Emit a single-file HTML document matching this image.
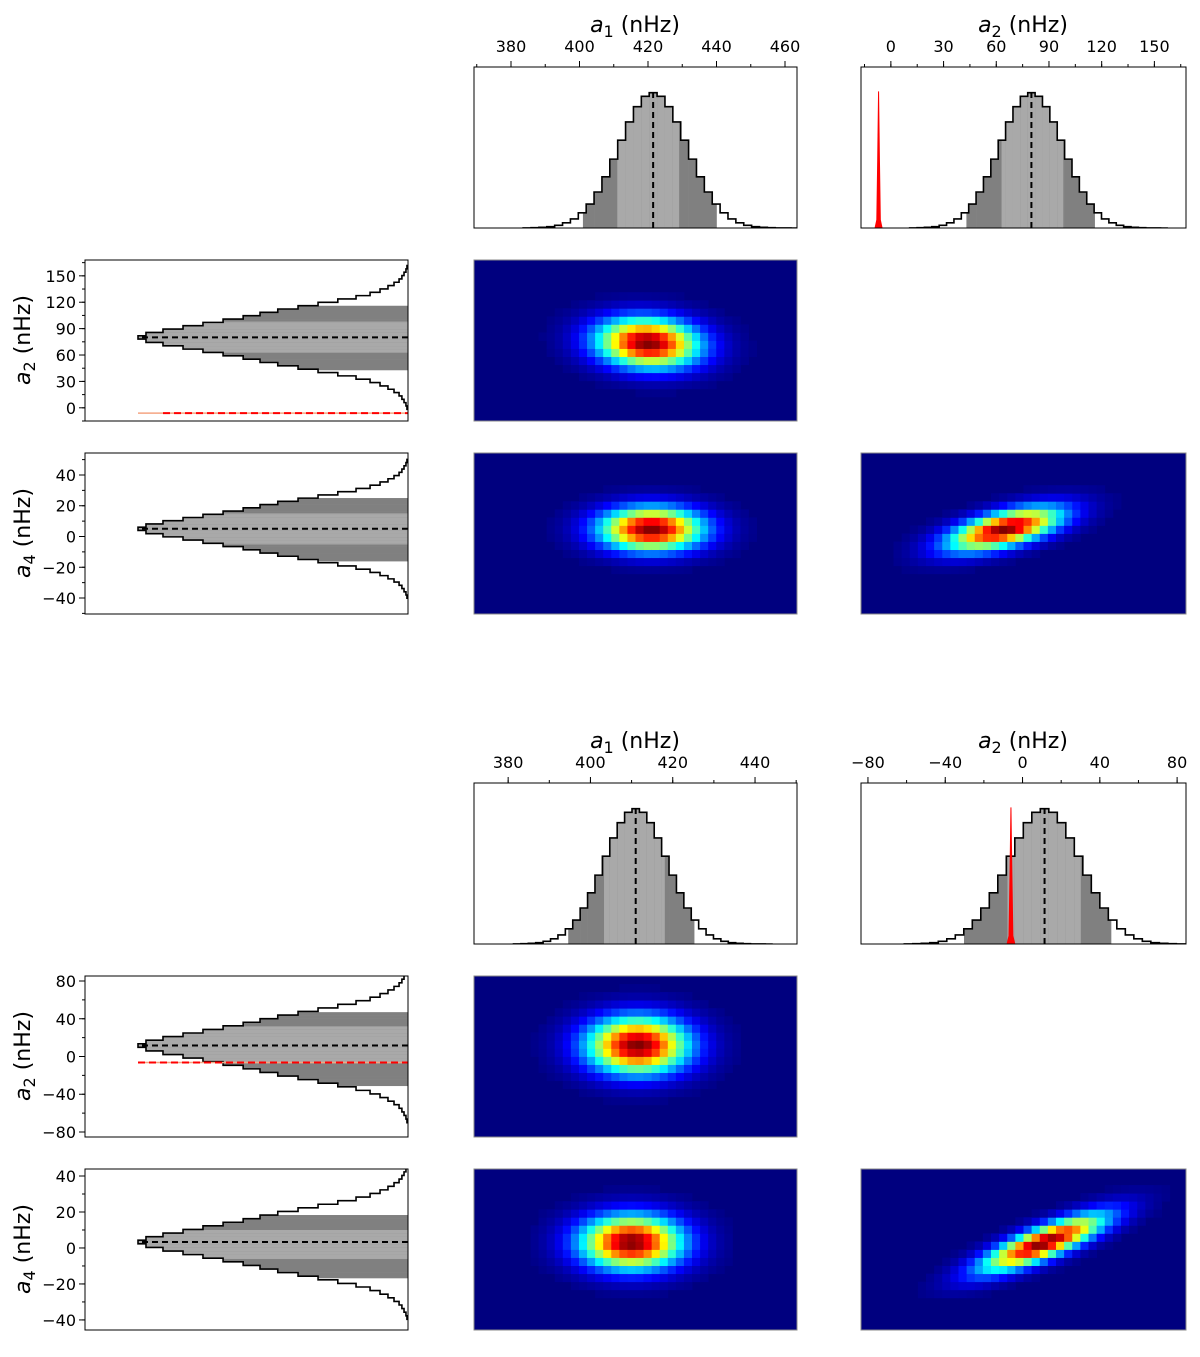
<!DOCTYPE html>
<html><head><meta charset="utf-8"><style>
html,body{margin:0;padding:0;background:#fff;}
svg{display:block;font-family:"DejaVu Sans","Liberation Sans",sans-serif;}
</style></head><body>
<svg id="fig" width="1200" height="1357" viewBox="0 0 1200 1357" xmlns="http://www.w3.org/2000/svg"></svg>
<script>
// ---------- DATA ----------
const P1_A1_COUNTS=[1,2,5,10,20,38,67,112,177,266,378,509,649,784,897,973,1000,973,897,784,649,509,378,266,177,112,67,38,20,10,5,2,1,1,0];
const P1_A1_START=383.55, P1_A1_BIN=2.3;
const P1_A1_Q=[401,411,421.5,429,440];
const P1_A2_COUNTS=[1,2,5,10,20,38,67,112,177,266,378,509,649,784,897,973,1000,973,897,784,649,509,378,266,177,112,67,38,20,10,5,2,1,1,0];
const P1_A2_START=10.7, P1_A2_BIN=4.2;
const P1_A2_Q=[43,63,80,98,116];
const P2_A1_COUNTS=[1,2,5,10,20,38,67,112,177,266,378,509,649,784,897,973,1000,973,897,784,649,509,378,266,177,112,67,38,20,10,5,2,1,1,0];
const P2_A1_START=381.3, P2_A1_BIN=1.8;
const P2_A1_Q=[394.6,403.3,411,418,425.2];
const P2_A2_COUNTS=[1,2,5,10,20,38,67,112,177,266,378,509,649,784,897,973,1000,973,897,784,649,509,378,266,177,112,67,38,20,10,5,2,1,1,0];
const P2_A2_START=-61.2, P2_A2_BIN=4.4;
const P2_A2_Q=[-30.3,-7.8,11.4,30,45.8];
const P1_RED_X=[-9,-8,-7.5,-7,-6.5,-6,-5];
const P1_RED_Y=[0,60,500,1010,500,60,0];
const P2_RED_X=[-8,-7,-6.5,-6,-5.5,-5,-4];
const P2_RED_Y=[0,60,500,1010,500,60,0];
const P1_RED_LINE=-6, P2_RED_LINE=-6.4;
const P1_L_A2_COUNTS=[1.03,1.06,1.12,1.19,1.29,1.49,1.77,2.22,2.95,4.4,7.4,13,23,41,68,110,195,346,611,1082,1757,2206,1757,1082,611,346,195,110,68,41,23,13,7.4,4.4,2.95,2.22,1.77,1.49,1.29,1.19,1.12,1.06,1.03];
const P1_L_A2_START=-1.7, P1_L_A2_BIN=3.8;
const P1_L_A2_Q=[43,63,80,98,116];
const P1_L_A4_COUNTS=[1.03,1.06,1.12,1.19,1.29,1.49,1.77,2.22,2.95,4.4,7.4,13,23,41,68,110,195,346,611,1082,1757,2206,1757,1082,611,346,195,110,68,41,23,13,7.4,4.4,2.95,2.22,1.77,1.49,1.29,1.19,1.12,1.06,1.03];
const P1_L_A4_START=-40.15, P1_L_A4_BIN=2.1;
const P1_L_A4_Q=[-16,-5,5,15,25];
const P2_L_A2_COUNTS=[1.03,1.06,1.12,1.19,1.29,1.49,1.77,2.22,2.95,4.4,7.4,13,23,41,68,110,195,346,611,1082,1757,2206,1757,1082,611,346,195,110,68,41,23,13,7.4,4.4,2.95,2.22,1.77,1.49,1.29,1.19,1.12,1.06,1.03];
const P2_L_A2_START=-70.1, P2_L_A2_BIN=3.8;
const P2_L_A2_Q=[-31,-7,11.6,32,47];
const P2_L_A4_COUNTS=[1.03,1.06,1.12,1.19,1.29,1.49,1.77,2.22,2.95,4.4,7.4,13,23,41,68,110,195,346,611,1082,1757,2206,1757,1082,611,346,195,110,68,41,23,13,7.4,4.4,2.95,2.22,1.77,1.49,1.29,1.19,1.12,1.06,1.03];
const P2_L_A4_START=-39.7, P2_L_A4_BIN=2.0;
const P2_L_A4_Q=[-16.7,-6,3.3,10,18.3];
// heatmap params: [meanX, meanY, sigmaX, sigmaY, rho]
const P1_H_A1A2=[420,74,8.5,16,-0.1];
const P1_H_A1A4=[421,5,8.5,8,0.0];
const P1_H_A2A4=[65,5,18,8,0.6];
const P2_H_A1A2=[411.5,12,7,17,0.0];
const P2_H_A1A4=[410,3.3,7,8.5,0.0];
const P2_H_A2A4=[11,3,18,9,0.82];
const P1_A1_TICKS=[380,400,420,440,460];
const P1_A2_TICKS=[0,30,60,90,120,150];
const P1_A4_TICKS=[-40,-20,0,20,40];
const P2_A1_TICKS=[380,400,420,440];
const P2_A2_TICKS=[-80,-40,0,40,80];
const P2_A4_TICKS=[-40,-20,0,20,40];

// ---------- DRAWING ----------
const NS="http://www.w3.org/2000/svg";
const fig=document.getElementById('fig');
let clipId=0;
function mk(tag,attrs,parent){const e=document.createElementNS(NS,tag);for(const k in attrs)e.setAttribute(k,attrs[k]);(parent||fig).appendChild(e);return e;}
function lin(d0,d1,r0,r1){return v=>r0+(v-d0)/(d1-d0)*(r1-r0);}
function fmt(v){return v<0?'\u2212'+Math.abs(v):String(v);}
function clipFor(x,y,w,h){clipId++;const cp=mk('clipPath',{id:'c'+clipId});mk('rect',{x:x,y:y,width:w,height:h},cp);return 'url(#c'+clipId+')';}

function topTicks(g,x,y,w,dom,ticks,minorStep){
  const sx=lin(dom[0],dom[1],x,x+w);
  const m0=Math.ceil(dom[0]/minorStep)*minorStep;
  for(let v=m0;v<=dom[1];v+=minorStep){
    const t=mk('line',{x1:sx(v),x2:sx(v),y1:y,y2:y-3,stroke:'#000','stroke-width':1},g);
    
    
  }
  ticks.forEach(v=>{
    const t=mk('line',{x1:sx(v),x2:sx(v),y1:y,y2:y-6,stroke:'#000','stroke-width':1},g);
    
    
    const l=mk('text',{x:sx(v),y:y-15,'text-anchor':'middle','font-size':16,fill:'#000'},g);
    l.textContent=fmt(v);
    
    
  });
}
function leftTicks(g,x,y,h,dom,ticks,minorStep){
  const sy=lin(dom[0],dom[1],y+h,y);
  const m0=Math.ceil(dom[0]/minorStep)*minorStep;
  for(let v=m0;v<=dom[1];v+=minorStep){
    const t=mk('line',{x1:x,x2:x-3,y1:sy(v),y2:sy(v),stroke:'#000','stroke-width':1},g);
    
    
  }
  ticks.forEach(v=>{
    const t=mk('line',{x1:x,x2:x-6,y1:sy(v),y2:sy(v),stroke:'#000','stroke-width':1},g);
    
    
    const l=mk('text',{x:x-9,y:sy(v)+6,'text-anchor':'end','font-size':16,fill:'#000'},g);
    l.textContent=fmt(v);
    
    
  });
}
function titleTop(cx,y,sub){
  const t=mk('text',{x:cx,y:y,'text-anchor':'middle','font-size':22,fill:'#000'});
  
  
  t.innerHTML='<tspan font-style="italic">a</tspan><tspan font-size="16" dy="5">'+sub+'</tspan><tspan dy="-5"> (nHz)</tspan>';
}
function titleLeft(cx,cy,sub){
  const t=mk('text',{x:0,y:0,'text-anchor':'middle','font-size':22,fill:'#000',transform:'translate('+cx+','+cy+') rotate(-90)'});
  
  
  t.innerHTML='<tspan font-style="italic">a</tspan><tspan font-size="16" dy="5">'+sub+'</tspan><tspan dy="-5"> (nHz)</tspan>';
}

function topHist(name,x,y,w,h,dom,counts,start,bin,q,red){
  const g=mk('g',{'clip-path':clipFor(x,y,w,h)});
  
  
  const sx=lin(dom[0],dom[1],x,x+w);
  const ymax=1190;
  const sy=c=>y+h-c/ymax*h;
  counts.forEach((c,i)=>{
    const e0=start+i*bin,e1=e0+bin;
    [[q[0],q[4],'#808080'],[q[1],q[3],'#a9a9a9']].forEach(([lo,hi,col])=>{
      const a=Math.max(e0,lo),b=Math.min(e1,hi);
      if(a<b){const r=mk('rect',{x:sx(a),y:sy(c),width:sx(b)-sx(a)+0.3,height:y+h-sy(c),fill:col},g);
        
        }
    });
  });
  let d='M'+sx(start)+','+(y+h);
  counts.forEach((c,i)=>{d+=' V'+sy(c)+' H'+sx(start+(i+1)*bin);});
  d+=' V'+(y+h);
  const p=mk('path',{d:d,fill:'none',stroke:'#000','stroke-width':1.6},g);
  
  
  const mi=Math.floor((q[2]-start)/bin);
  const ml=mk('line',{x1:sx(q[2]),x2:sx(q[2]),y1:y+h,y2:sy(counts[mi]),stroke:'#000','stroke-width':2,'stroke-dasharray':'6,4'},g);
  
  
  if(red){
    let pts=red[0].map((v,i)=>sx(v)+','+sy(red[1][i])).join(' ');
    const rp=mk('polygon',{points:pts,fill:'#ff0000',stroke:'#ff0000','stroke-width':1},g);
    
    
  }
  const b=mk('rect',{x:x,y:y,width:w,height:h,fill:'none',stroke:'#000','stroke-width':1});
  
  
}

function leftHist(name,x,y,w,h,dom,counts,start,bin,q,redV){
  const g=mk('g',{'clip-path':clipFor(x,y,w,h)});
  
  
  const sy=lin(dom[0],dom[1],y+h,y);
  const sx=c=>x+w-Math.log10(Math.max(c,1))/4*w;
  counts.forEach((c,i)=>{
    const e0=start+i*bin,e1=e0+bin;
    [[q[0],q[4],'#808080'],[q[1],q[3],'#a9a9a9']].forEach(([lo,hi,col])=>{
      const a=Math.max(e0,lo),b=Math.min(e1,hi);
      if(a<b){const r=mk('rect',{x:sx(c),y:sy(b),width:x+w-sx(c),height:sy(a)-sy(b)+0.3,fill:col},g);
        
        }
    });
  });
  let d='M'+(x+w)+','+sy(start);
  counts.forEach((c,i)=>{d+=' H'+sx(c)+' V'+sy(start+(i+1)*bin);});
  d+=' H'+(x+w);
  const p=mk('path',{d:d,fill:'none',stroke:'#000','stroke-width':1.6},g);
  
  
  const mi=Math.floor((q[2]-start)/bin);
  const ml=mk('line',{x1:x+w,x2:sx(counts[mi]),y1:sy(q[2]),y2:sy(q[2]),stroke:'#000','stroke-width':2,'stroke-dasharray':'6,4'},g);
  
  
  if(redV!==null){
    const peak=Math.max(...counts);
    const rl0=mk('line',{x1:sx(peak),x2:x+w,y1:sy(redV),y2:sy(redV),stroke:'#f4a582','stroke-width':1.5},g);
    
    
    const rl=mk('line',{x1:sx(peak)+(name.indexOf('p1')===0?25:0),x2:x+w,y1:sy(redV),y2:sy(redV),stroke:'#ff0000','stroke-width':2,'stroke-dasharray':'7,4'},g);
    
    
  }
  const b=mk('rect',{x:x,y:y,width:w,height:h,fill:'none',stroke:'#000','stroke-width':1});
  
  
}

function jet(v){const c=t=>Math.round(255*Math.max(0,Math.min(1,t)));
  return 'rgb('+c(1.5-Math.abs(4*v-3))+','+c(1.5-Math.abs(4*v-2))+','+c(1.5-Math.abs(4*v-1))+')';}
function heat(name,x,y,w,h,domX,domY,par){
  const g=mk('g',{'clip-path':clipFor(x,y,w,h)});
  
  
  const nx=40,ny=20;
  const sx=lin(domX[0],domX[1],x,x+w), sy=lin(domY[0],domY[1],y+h,y);
  const bx=(domX[1]-domX[0])/nx, by=(domY[1]-domY[0])/ny;
  mk('rect',{x:x,y:y,width:w,height:h,fill:'#00007f'},g);
  for(let i=0;i<nx;i++)for(let j=0;j<ny;j++){
    const cx=domX[0]+(i+0.5)*bx, cy=domY[0]+(j+0.5)*by;
    const u=(cx-par[0])/par[2], v=(cy-par[1])/par[3], r=par[4];
    const z=Math.exp(-(u*u-2*r*u*v+v*v)/(2*(1-r*r)));
    const val=Math.pow(z,0.7);
    if(val<0.01)continue;
    const cell=mk('rect',{x:sx(cx-bx/2),y:sy(cy+by/2),width:sx(cx+bx/2)-sx(cx-bx/2)+0.4,height:sy(cy-by/2)-sy(cy+by/2)+0.4,fill:jet(val)},g);
    
    
  }
  const b=mk('rect',{x:x,y:y,width:w,height:h,fill:'none',stroke:'#888','stroke-width':1});
  
  
}

function plot(off,cfg){
  const tY=67+off, r2=260+off, r3=453+off;
  const gA=mk('g',{});  
  titleTop(635,32+off,'1'); titleTop(1023,32+off,'2');
  topTicks(gA,474,tY,323,cfg.a1Dom,cfg.a1Ticks,cfg.a1Minor);
  topTicks(gA,861,tY,325,cfg.a2Dom,cfg.a2Ticks,cfg.a2Minor);
  topHist(cfg.p+'-a1-histogram',474,tY,323,161,cfg.a1Dom,cfg.a1C,cfg.a1S,cfg.a1B,cfg.a1Q,null);
  topHist(cfg.p+'-a2-histogram',861,tY,325,161,cfg.a2Dom,cfg.a2C,cfg.a2S,cfg.a2B,cfg.a2Q,cfg.red);
  leftTicks(gA,85,r2,161,cfg.la2Dom,cfg.la2Ticks,cfg.la2Minor);
  leftTicks(gA,85,r3,161,cfg.la4Dom,cfg.la4Ticks,cfg.la4Minor);
  titleLeft(30,r2+80,'2'); titleLeft(30,r3+80,'4');
  leftHist(cfg.p+'-a2-side-histogram',85,r2,323,161,cfg.la2Dom,cfg.la2C,cfg.la2S,cfg.la2B,cfg.la2Q,cfg.redLine);
  leftHist(cfg.p+'-a4-side-histogram',85,r3,323,161,cfg.la4Dom,cfg.la4C,cfg.la4S,cfg.la4B,cfg.la4Q,null);
  heat(cfg.p+'-a1-a2-heatmap',474,r2,323,161,cfg.a1Dom,cfg.la2Dom,cfg.h12);
  heat(cfg.p+'-a1-a4-heatmap',474,r3,323,161,cfg.a1Dom,cfg.la4Dom,cfg.h14);
  heat(cfg.p+'-a2-a4-heatmap',861,r3,325,161,cfg.a2Dom,cfg.la4Dom,cfg.h24);
}
plot(0,{p:'p1',a1Dom:[369.2,463.5],a1Ticks:P1_A1_TICKS,a1Minor:10,a2Dom:[-17,168],a2Ticks:P1_A2_TICKS,a2Minor:15,
  a1C:P1_A1_COUNTS,a1S:P1_A1_START,a1B:P1_A1_BIN,a1Q:P1_A1_Q,a2C:P1_A2_COUNTS,a2S:P1_A2_START,a2B:P1_A2_BIN,a2Q:P1_A2_Q,
  red:[P1_RED_X,P1_RED_Y],redLine:P1_RED_LINE,
  la2Dom:[-15,168],la2Ticks:P1_A2_TICKS,la2Minor:15,la4Dom:[-50.4,54.3],la4Ticks:P1_A4_TICKS,la4Minor:10,
  la2C:P1_L_A2_COUNTS,la2S:P1_L_A2_START,la2B:P1_L_A2_BIN,la2Q:P1_L_A2_Q,la4C:P1_L_A4_COUNTS,la4S:P1_L_A4_START,la4B:P1_L_A4_BIN,la4Q:P1_L_A4_Q,
  h12:P1_H_A1A2,h14:P1_H_A1A4,h24:P1_H_A2A4});
plot(716,{p:'p2',a1Dom:[371.7,450.2],a1Ticks:P2_A1_TICKS,a1Minor:10,a2Dom:[-83.6,84.6],a2Ticks:P2_A2_TICKS,a2Minor:20,
  a1C:P2_A1_COUNTS,a1S:P2_A1_START,a1B:P2_A1_BIN,a1Q:P2_A1_Q,a2C:P2_A2_COUNTS,a2S:P2_A2_START,a2B:P2_A2_BIN,a2Q:P2_A2_Q,
  red:[P2_RED_X,P2_RED_Y],redLine:P2_RED_LINE,
  la2Dom:[-85.3,85.3],la2Ticks:P2_A2_TICKS,la2Minor:20,la4Dom:[-45.6,43.9],la4Ticks:P2_A4_TICKS,la4Minor:10,
  la2C:P2_L_A2_COUNTS,la2S:P2_L_A2_START,la2B:P2_L_A2_BIN,la2Q:P2_L_A2_Q,la4C:P2_L_A4_COUNTS,la4S:P2_L_A4_START,la4B:P2_L_A4_BIN,la4Q:P2_L_A4_Q,
  h12:P2_H_A1A2,h14:P2_H_A1A4,h24:P2_H_A2A4});
</script>
</body></html>
